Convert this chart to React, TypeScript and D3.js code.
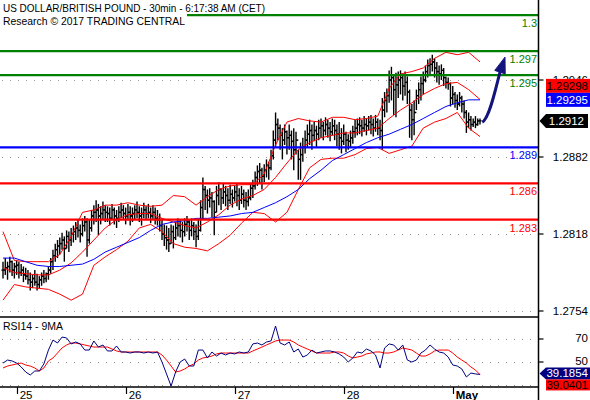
import React from 'react';
import * as d3 from 'd3';

// ---- price bars (30min) ----
const highs = [
  1.2795, 1.2798, 1.2795, 1.2799, 1.2796, 1.2794, 1.2796, 1.2795, 1.2793, 1.2791,
  1.2790, 1.2788, 1.2786, 1.2784, 1.2788, 1.2785, 1.2783, 1.2786, 1.2788, 1.2786,
  1.2791, 1.2798, 1.2805, 1.2810, 1.2813, 1.2815, 1.2819, 1.2816, 1.2821, 1.2820,
  1.2823, 1.2825, 1.2828, 1.2830, 1.2826, 1.2831, 1.2833, 1.2831, 1.2830, 1.2838,
  1.2842, 1.2846, 1.2843, 1.2841, 1.2845, 1.2842, 1.2841, 1.2840, 1.2843, 1.2840,
  1.2838, 1.2841, 1.2844, 1.2842, 1.2840, 1.2843, 1.2841, 1.2840, 1.2842, 1.2845,
  1.2841, 1.2840, 1.2844, 1.2841, 1.2843, 1.2840, 1.2842, 1.2840, 1.2838, 1.2835,
  1.2830, 1.2826, 1.2825, 1.2823, 1.2826, 1.2825, 1.2828, 1.2831, 1.2830, 1.2828,
  1.2831, 1.2833, 1.2830, 1.2831, 1.2828, 1.2826, 1.2830, 1.2846, 1.2865, 1.2858,
  1.2855, 1.2856, 1.2853, 1.2846, 1.2858, 1.2861, 1.2856, 1.2860, 1.2858, 1.2856,
  1.2859, 1.2855, 1.2858, 1.2860, 1.2856, 1.2858, 1.2855, 1.2853, 1.2855, 1.2860,
  1.2863, 1.2870, 1.2875, 1.2877, 1.2873, 1.2876, 1.2880, 1.2878, 1.2888, 1.2904,
  1.2919, 1.2914, 1.2909, 1.2906, 1.2909, 1.2904, 1.2909, 1.2904, 1.2906, 1.2903,
  1.2888, 1.2894, 1.2898, 1.2904, 1.2909, 1.2913, 1.2909, 1.2911, 1.2908, 1.2913,
  1.2914, 1.2911, 1.2915, 1.2913, 1.2911, 1.2914, 1.2913, 1.2909, 1.2911, 1.2906,
  1.2909, 1.2903, 1.2901, 1.2904, 1.2908, 1.2913, 1.2914, 1.2915, 1.2913, 1.2916,
  1.2914, 1.2916, 1.2917, 1.2914, 1.2917, 1.2914, 1.2913, 1.2931, 1.2936, 1.2939,
  1.2954, 1.2957, 1.2950, 1.2952, 1.2953, 1.2954, 1.2951, 1.2953, 1.2949, 1.2938,
  1.2926, 1.2929, 1.2938, 1.2944, 1.2949, 1.2953, 1.2958, 1.2963, 1.2964, 1.2967,
  1.2964, 1.2961, 1.2958, 1.2959, 1.2956, 1.2949, 1.2948, 1.2944, 1.2941, 1.2936,
  1.2934, 1.2936, 1.2933, 1.2929, 1.2921, 1.2919, 1.2916, 1.2914, 1.2916, 1.2914, 1.2914,
];
const lows = [
  1.2781, 1.2784, 1.2780, 1.2786, 1.2783, 1.2781, 1.2784, 1.2781, 1.2783, 1.2778,
  1.2780, 1.2776, 1.2771, 1.2773, 1.2775, 1.2771, 1.2773, 1.2775, 1.2777, 1.2778,
  1.2780, 1.2785, 1.2788, 1.2795, 1.2798, 1.2801, 1.2805, 1.2795, 1.2806, 1.2803,
  1.2808, 1.2811, 1.2813, 1.2815, 1.2811, 1.2816, 1.2820, 1.2799, 1.2810, 1.2820,
  1.2826, 1.2828, 1.2817, 1.2826, 1.2830, 1.2828, 1.2828, 1.2825, 1.2830, 1.2826,
  1.2823, 1.2828, 1.2831, 1.2830, 1.2826, 1.2830, 1.2825, 1.2828, 1.2830, 1.2831,
  1.2828, 1.2825, 1.2831, 1.2830, 1.2831, 1.2827, 1.2830, 1.2826, 1.2825, 1.2820,
  1.2813, 1.2808, 1.2805, 1.2803, 1.2810, 1.2806, 1.2813, 1.2816, 1.2815, 1.2811,
  1.2816, 1.2820, 1.2813, 1.2816, 1.2813, 1.2807, 1.2813, 1.2820, 1.2830, 1.2838,
  1.2835, 1.2840, 1.2832, 1.2817, 1.2836, 1.2842, 1.2838, 1.2843, 1.2841, 1.2838,
  1.2843, 1.2840, 1.2845, 1.2841, 1.2838, 1.2843, 1.2840, 1.2838, 1.2841, 1.2846,
  1.2848, 1.2855, 1.2858, 1.2860, 1.2855, 1.2861, 1.2865, 1.2863, 1.2871, 1.2880,
  1.2890, 1.2896, 1.2888, 1.2880, 1.2892, 1.2884, 1.2888, 1.2880, 1.2871, 1.2884,
  1.2863, 1.2863, 1.2878, 1.2885, 1.2890, 1.2892, 1.2888, 1.2895, 1.2890, 1.2896,
  1.2898, 1.2896, 1.2900, 1.2898, 1.2895, 1.2900, 1.2896, 1.2891, 1.2888, 1.2885,
  1.2892, 1.2886, 1.2888, 1.2890, 1.2893, 1.2898, 1.2900, 1.2901, 1.2899, 1.2903,
  1.2900, 1.2904, 1.2901, 1.2899, 1.2903, 1.2900, 1.2896, 1.2888, 1.2915, 1.2919,
  1.2927, 1.2929, 1.2917, 1.2915, 1.2931, 1.2934, 1.2929, 1.2933, 1.2926, 1.2898,
  1.2896, 1.2900, 1.2921, 1.2926, 1.2929, 1.2934, 1.2944, 1.2948, 1.2951, 1.2953,
  1.2948, 1.2944, 1.2942, 1.2946, 1.2941, 1.2939, 1.2938, 1.2924, 1.2926, 1.2923,
  1.2921, 1.2924, 1.2919, 1.2914, 1.2902, 1.2906, 1.2904, 1.2907, 1.2906, 1.2908, 1.2909,
];
const closes = [
  1.2788, 1.2790, 1.2791, 1.2795, 1.2788, 1.2791, 1.2792, 1.2786, 1.2788, 1.2784,
  1.2783, 1.2780, 1.2778, 1.2781, 1.2778, 1.2776, 1.2780, 1.2783, 1.2781, 1.2785,
  1.2788, 1.2795, 1.2800, 1.2805, 1.2808, 1.2810, 1.2813, 1.2806, 1.2816, 1.2813,
  1.2818, 1.2820, 1.2823, 1.2821, 1.2818, 1.2825, 1.2828, 1.2813, 1.2823, 1.2833,
  1.2836, 1.2838, 1.2833, 1.2835, 1.2838, 1.2836, 1.2835, 1.2831, 1.2838, 1.2833,
  1.2831, 1.2836, 1.2838, 1.2835, 1.2833, 1.2836, 1.2833, 1.2835, 1.2838, 1.2836,
  1.2833, 1.2835, 1.2838, 1.2835, 1.2836, 1.2833, 1.2836, 1.2831, 1.2830, 1.2825,
  1.2818, 1.2815, 1.2813, 1.2810, 1.2820, 1.2815, 1.2823, 1.2825, 1.2821, 1.2820,
  1.2826, 1.2828, 1.2821, 1.2825, 1.2820, 1.2816, 1.2821, 1.2840, 1.2855, 1.2850,
  1.2846, 1.2848, 1.2845, 1.2836, 1.2850, 1.2855, 1.2848, 1.2853, 1.2850, 1.2846,
  1.2851, 1.2848, 1.2853, 1.2850, 1.2846, 1.2851, 1.2846, 1.2845, 1.2848, 1.2856,
  1.2858, 1.2865, 1.2870, 1.2871, 1.2866, 1.2871, 1.2875, 1.2873, 1.2883, 1.2896,
  1.2909, 1.2906, 1.2900, 1.2896, 1.2903, 1.2898, 1.2900, 1.2895, 1.2888, 1.2896,
  1.2880, 1.2884, 1.2890, 1.2896, 1.2901, 1.2904, 1.2900, 1.2904, 1.2901, 1.2906,
  1.2908, 1.2904, 1.2909, 1.2906, 1.2903, 1.2908, 1.2904, 1.2901, 1.2898, 1.2895,
  1.2901, 1.2896, 1.2895, 1.2898, 1.2903, 1.2906, 1.2909, 1.2908, 1.2906, 1.2909,
  1.2908, 1.2911, 1.2909, 1.2906, 1.2911, 1.2906, 1.2904, 1.2921, 1.2929, 1.2933,
  1.2946, 1.2948, 1.2938, 1.2942, 1.2946, 1.2948, 1.2941, 1.2944, 1.2936, 1.2921,
  1.2913, 1.2919, 1.2933, 1.2938, 1.2943, 1.2946, 1.2953, 1.2958, 1.2959, 1.2961,
  1.2956, 1.2953, 1.2951, 1.2954, 1.2948, 1.2944, 1.2943, 1.2931, 1.2934, 1.2929,
  1.2926, 1.2931, 1.2926, 1.2919, 1.2911, 1.2913, 1.2909, 1.2911, 1.2909, 1.2912, 1.2912,
];

// ---- indicators, sampled every 5 bars ----
const bandStep = 5;
const bbUpper = [
  1.2820, 1.2796, 1.2795, 1.2795, 1.2795, 1.2801, 1.2816, 1.2836, 1.2838, 1.2842,
  1.2842, 1.2844, 1.2842, 1.2841, 1.2842, 1.2850, 1.2849, 1.2842, 1.2849, 1.2855,
  1.2858, 1.2859, 1.2859, 1.2868, 1.2892, 1.2911, 1.2914, 1.2912, 1.2911, 1.2915,
  1.2915, 1.2913, 1.2914, 1.2916, 1.2939, 1.2951, 1.2953, 1.2956, 1.2964, 1.2969,
  1.2967, 1.2969, 1.2961,
];
const bbMiddle = [
  1.2790, 1.2786, 1.2785, 1.2784, 1.2784, 1.2788, 1.2794, 1.2803, 1.2813, 1.2823,
  1.2830, 1.2834, 1.2835, 1.2835, 1.2831, 1.2828, 1.2825, 1.2823, 1.2828, 1.2834,
  1.2842, 1.2847, 1.2850, 1.2855, 1.2865, 1.2877, 1.2888, 1.2894, 1.2898, 1.2900,
  1.2902, 1.2902, 1.2904, 1.2906, 1.2914, 1.2921, 1.2927, 1.2934, 1.2939, 1.2943,
  1.2944, 1.2938, 1.29298,
];
const bbLower = [
  1.2763, 1.2776, 1.2774, 1.2773, 1.2772, 1.2768, 1.2763, 1.2768, 1.2792, 1.2799,
  1.2805, 1.2812, 1.2823, 1.2826, 1.2820, 1.2810, 1.2807, 1.2806, 1.2804, 1.2810,
  1.2817, 1.2827, 1.2836, 1.2835, 1.2828, 1.2836, 1.2855, 1.2873, 1.2880, 1.2881,
  1.2881, 1.2884, 1.2889, 1.2890, 1.2885, 1.2888, 1.2891, 1.2906, 1.2911, 1.2914,
  1.2919, 1.2906, 1.2899,
];
const movingAvg = [
  1.2798, 1.2798, 1.2795, 1.2792, 1.2791, 1.2791, 1.2792, 1.2793, 1.2797, 1.2803,
  1.2807, 1.2811, 1.2815, 1.2821, 1.2826, 1.2828, 1.2829, 1.2831, 1.2831, 1.2832,
  1.2833, 1.2835, 1.2836, 1.2840, 1.2844, 1.2849, 1.2855, 1.2864, 1.2871, 1.2879,
  1.2884, 1.2889, 1.2894, 1.2898, 1.2901, 1.2905, 1.2909, 1.2914, 1.2919, 1.2924,
  1.2927, 1.29295, 1.29295,
];

// ---- RSI14 and its 9MA, sampled every 2 bars ----
const rsiStep = 2;
const rsi = [
  49.1, 51.7, 50.9, 49.1, 45.7, 41.3, 38.7, 42.2, 42.2, 48.3,
  60.4, 69.1, 66.5, 71.7, 70.9, 65.7, 67.4, 65.7, 60.4, 60.4,
  68.3, 63.0, 64.8, 59.6, 59.6, 63.9, 58.7, 58.7, 57.8, 58.7,
  58.7, 57.8, 58.7, 57.8, 58.7, 50.0, 39.6, 29.1, 41.3, 50.0,
  52.6, 46.5, 46.5, 60.4, 60.4, 53.5, 58.7, 55.2, 57.8, 56.1,
  57.8, 57.0, 58.7, 57.8, 58.7, 65.7, 66.5, 64.8, 67.4, 68.3,
  81.3, 66.5, 64.8, 67.4, 58.7, 61.3, 54.3, 56.1, 60.4, 57.8,
  58.7, 59.6, 59.6, 58.7, 57.0, 54.3, 50.0, 53.5, 58.7, 57.8,
  61.3, 59.6, 56.1, 44.8, 62.2, 65.7, 64.8, 60.4, 64.8, 51.7,
  50.0, 51.7, 57.8, 60.4, 64.8, 61.3, 58.7, 57.8, 54.3, 47.4,
  46.5, 43.9, 37.0, 40.4, 39.6, 39.1854,
];
const rsiMa = [
  44.8, 46.5, 47.4, 48.3, 49.1, 47.4, 46.5, 44.8, 42.2, 44.8,
  50.9, 53.5, 57.8, 62.2, 64.8, 66.5, 66.5, 65.7, 64.8, 63.9,
  63.0, 63.0, 63.0, 63.0, 61.3, 59.6, 58.7, 58.7, 58.7, 58.7,
  58.7, 58.7, 58.7, 58.7, 58.7, 56.1, 51.7, 46.5, 41.3, 42.2,
  43.9, 46.5, 48.3, 51.7, 53.5, 54.3, 55.2, 57.0, 57.8, 57.8,
  57.8, 57.8, 57.8, 57.8, 57.8, 59.6, 61.3, 63.0, 64.8, 66.5,
  68.3, 69.1, 69.1, 69.1, 67.4, 64.8, 63.0, 61.3, 59.6, 57.8,
  57.8, 57.8, 57.8, 58.7, 58.7, 57.8, 55.2, 53.5, 54.3, 55.2,
  57.0, 57.8, 58.7, 58.7, 57.8, 57.8, 58.7, 60.4, 62.2, 61.3,
  60.4, 57.8, 55.2, 55.2, 57.0, 59.6, 60.4, 60.4, 60.4, 57.8,
  54.3, 51.7, 49.1, 45.7, 43.0, 39.0401,
];

// ---- axes / levels ----
const dayTickIndex = [6, 54, 102, 150, 198];
const dayTickLabels = ['25', '26', '27', '28', 'May'];
const priceTicks = [1.2754, 1.2818, 1.2882, 1.2946];
const priceTickLabels = ['1.2754', '1.2818', '1.2882', '1.2946'];
const rsiGrid = [30, 50, 70];
const rsiTickValues = [50, 70];
const levelValues = [1.3, 1.297, 1.295, 1.289, 1.286, 1.283];
const levelLabels = ['1.3', '1.297', '1.295', '1.289', '1.286', '1.283'];
const levelColors = ['#008000', '#008000', '#008000', '#0000ff', '#ff0000', '#ff0000'];
const lastPrice = 1.2912;
const bbMiddleLast = 1.29298;
const maLast = 1.29295;
const rsiLast = 39.1854;
const rsiMaLast = 39.0401;
const arrowFrom = { index: 211, price: 1.2911 };
const arrowTo = { index: 221, price: 1.2965 };
const titleLine1 = 'US DOLLAR/BRITISH POUND - 30min - 6:17:38 AM (CET)';
const titleLine2 = 'Research © 2017 TRADING CENTRAL';
const rsiTitle = 'RSI14 - 9MA';

const FONT = "'Liberation Sans', Arial, Helvetica, sans-serif";
const NARROW = "'Liberation Sans Narrow', 'Liberation Sans', Arial, sans-serif";

export default function App() {
  const W = 590, H = 400;
  const axisX = 538.5;
  const mainBottom = 317;
  const rsiBottom = 387;

  const x = d3.scaleLinear().domain([0, highs.length - 1]).range([3, 480]);
  const y = d3.scaleLinear().domain([1.2754, 1.2946]).range([311, 80]);
  const yr = d3.scaleLinear().domain([30, 70]).range([385, 339]);

  const bandLine = d3.line<number>().x((_, i) => x(i * bandStep)).y((d) => y(d));
  const rsiLine = d3.line<number>().x((_, i) => x(i * rsiStep)).y((d) => yr(d));

  // arrow
  const sx = x(arrowFrom.index), sy = y(arrowFrom.price);
  const tx = x(arrowTo.index), ty = y(arrowTo.price);
  const bx = tx - 5, by = ty + 15;
  const dl = Math.hypot(tx - bx, ty - by);
  const ux = (tx - bx) / dl, uy = (ty - by) / dl;
  const px = -uy, py = ux;
  const shaft = d3.path();
  shaft.moveTo(sx, sy);
  shaft.bezierCurveTo(sx + 7, sy - 3, bx - 4, by + 15, bx, by);
  const head = `M${tx},${ty}L${bx + 5.5 * px},${by + 5.5 * py}L${bx - 5.5 * px},${by - 5.5 * py}Z`;

  const blueY = y(maLast);
  const redY = blueY - 14;
  const lastY = y(lastPrice);
  const rsiY = yr(rsiLast) - 1;

  return (
    <svg width={W} height={H} style={{ position: 'absolute', left: 0, top: 0, background: '#fff' }} fontFamily={FONT}>
      <defs>
        <clipPath id="mainClip"><rect x={0} y={0} width={axisX} height={mainBottom} /></clipPath>
        <clipPath id="rsiClip"><rect x={0} y={mainBottom} width={axisX} height={rsiBottom - mainBottom} /></clipPath>
      </defs>
      <rect x={0} y={0} width={W} height={H} fill="#fff" />

      {/* grid */}
      <g stroke="#9a9a9a" strokeWidth={1} strokeDasharray="1,7">
        {priceTicks.map((t) => (
          <line key={t} x1={2} x2={axisX - 2} y1={Math.round(y(t)) + 0.5} y2={Math.round(y(t)) + 0.5} />
        ))}
        {rsiGrid.map((t) => (
          <line key={t} x1={2} x2={axisX - 2} y1={Math.round(yr(t)) + 0.5} y2={Math.round(yr(t)) + 0.5} />
        ))}
      </g>

      <g clipPath="url(#mainClip)">
        {/* price bars */}
        <g stroke="#000" strokeWidth={1.4}>
          {highs.map((h, i) => {
            const cx = x(i);
            const o = i > 0 ? closes[i - 1] : closes[i];
            return (
              <g key={i}>
                <line x1={cx} x2={cx} y1={y(h)} y2={y(lows[i])} />
                <line x1={cx - 1.6} x2={cx} y1={y(o)} y2={y(o)} />
                <line x1={cx} x2={cx + 1.6} y1={y(closes[i])} y2={y(closes[i])} />
              </g>
            );
          })}
        </g>
        {/* bollinger & MA */}
        <g fill="none" strokeWidth={1}>
          <path d={bandLine(bbUpper) || ''} stroke="#ff0000" />
          <path d={bandLine(bbMiddle) || ''} stroke="#ff0000" />
          <path d={bandLine(bbLower) || ''} stroke="#ff0000" />
          <path d={bandLine(movingAvg) || ''} stroke="#0000ff" />
        </g>
        {/* levels */}
        {levelValues.map((v, i) => (
          <g key={v}>
            <line x1={0} x2={axisX} y1={y(v)} y2={y(v)} stroke={levelColors[i]} strokeWidth={2.2} />
            <text x={537} y={y(v) + 12} fontSize={11} textAnchor="end" fill={levelColors[i]}>{levelLabels[i]}</text>
          </g>
        ))}
        {/* arrow */}
        <path d={shaft.toString()} fill="none" stroke="#14147d" strokeWidth={3} />
        <path d={head} fill="#14147d" stroke="#14147d" strokeWidth={1} />
      </g>

      {/* title */}
      <rect x={0} y={0} width={187} height={29} fill="#fff" />
      <text x={3} y={11.5} fontSize={11.5} fontFamily={NARROW} textLength={262} lengthAdjust="spacingAndGlyphs" fill="#000">{titleLine1}</text>
      <text x={3} y={25} fontSize={11.5} fontFamily={NARROW} textLength={182} lengthAdjust="spacingAndGlyphs" fill="#000">{titleLine2}</text>

      {/* RSI panel */}
      <g clipPath="url(#rsiClip)" fill="none">
        <path d={rsiLine(rsiMa) || ''} stroke="#ff0000" strokeWidth={1} />
        <path d={rsiLine(rsi) || ''} stroke="#000080" strokeWidth={1} />
      </g>
      <text x={3} y={330} fontSize={11.5} fontFamily={NARROW} textLength={60} lengthAdjust="spacingAndGlyphs" fill="#000">{rsiTitle}</text>

      {/* frame */}
      <line x1={0} x2={axisX} y1={mainBottom} y2={mainBottom} stroke="#000" strokeWidth={1.5} />
      <line x1={0} x2={axisX} y1={rsiBottom} y2={rsiBottom} stroke="#000" strokeWidth={1.5} />
      <line x1={axisX} x2={axisX} y1={0} y2={H} stroke="#000" strokeWidth={1.5} />

      {/* right price axis */}
      {priceTicks.map((t, i) => (
        <g key={t}>
          <line x1={axisX} x2={axisX + 5} y1={y(t)} y2={y(t)} stroke="#000" strokeWidth={1.2} />
          <text x={588} y={y(t) + 4} fontSize={11.5} textAnchor="end" fill="#000">{priceTickLabels[i]}</text>
        </g>
      ))}
      {rsiTickValues.map((t) => (
        <g key={t}>
          <line x1={axisX} x2={axisX + 5} y1={yr(t)} y2={yr(t)} stroke="#000" strokeWidth={1.2} />
          <text x={588} y={yr(t) + 3} fontSize={11.5} textAnchor="end" fill="#000">{t}</text>
        </g>
      ))}

      {/* value labels */}
      <rect x={546} y={redY - 7} width={44} height={14} fill="#ff0000" />
      <text x={588} y={redY + 4} fontSize={11.5} textAnchor="end" fill="#000">{bbMiddleLast.toFixed(5)}</text>
      <rect x={546} y={blueY - 7} width={44} height={14} fill="#0000ff" />
      <text x={588} y={blueY + 4} fontSize={11.5} textAnchor="end" fill="#fff">{maLast.toFixed(5)}</text>
      <path d={`M${axisX + 1},${lastY}L${546},${lastY - 7}L${588},${lastY - 7}L${588},${lastY + 7}L${546},${lastY + 7}Z`} fill="#000" />
      <text x={584} y={lastY + 4} fontSize={11.5} textAnchor="end" fill="#fff">{lastPrice.toFixed(4)}</text>

      <path d={`M${axisX + 1},${rsiY}L${546},${rsiY - 6}L${590},${rsiY - 6}L${590},${rsiY + 6}L${546},${rsiY + 6}Z`} fill="#000080" />
      <text x={588} y={rsiY + 4} fontSize={11.5} textAnchor="end" fill="#fff">{rsiLast.toFixed(4)}</text>
      <rect x={546} y={rsiY + 6} width={44} height={11} fill="#ff0000" />
      <text x={588} y={rsiY + 15.5} fontSize={11.5} textAnchor="end" fill="#000">{rsiMaLast.toFixed(4)}</text>

      {/* x axis */}
      {dayTickIndex.map((d, i) => (
        <g key={d}>
          <line x1={Math.round(x(d)) + 0.5} x2={Math.round(x(d)) + 0.5} y1={rsiBottom} y2={rsiBottom + 7} stroke="#000" strokeWidth={1.2} />
          <text x={x(d) + 3} y={399} fontSize={11.5} fontWeight={dayTickLabels[i] === 'May' ? 'bold' : 'normal'} fill="#000">{dayTickLabels[i]}</text>
        </g>
      ))}
    </svg>
  );
}
